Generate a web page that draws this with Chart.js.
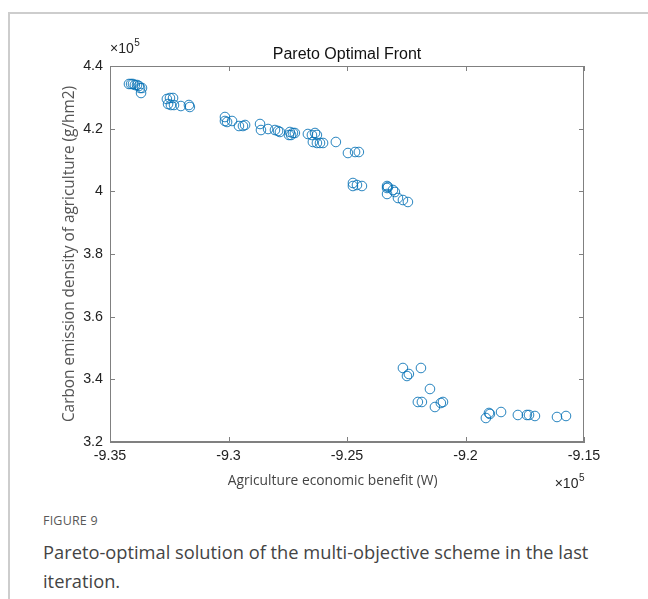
<!DOCTYPE html>
<html>
<head>
<meta charset="utf-8">
<script src="https://cdn.jsdelivr.net/npm/chart.js@4.4.1/dist/chart.umd.min.js"></script>
<style>
  html, body { margin: 0; padding: 0; background: #fff; }
  body { width: 648px; height: 599px; position: relative; overflow: hidden; }
  #card { position: absolute; left: 8px; top: 12px; width: 800px; height: 800px; border: 2px solid #cdcdcd; box-sizing: border-box; }
  #wrap { position: absolute; left: 0; top: 0; width: 648px; height: 500px; }
  #fig { position: absolute; left: 43px; top: 512px; font-family: "Open Sans", sans-serif; font-size: 12.5px; color: #585858; letter-spacing: 0.2px; }
  #cap { position: absolute; left: 43px; top: 537px; width: 570px; font-family: "Open Sans", sans-serif; font-size: 18.3px; line-height: 29px; color: #444; }
</style>
</head>
<body>
<div id="card"></div>
<div id="wrap"><canvas id="c" width="648" height="500"></canvas></div>
<div id="fig">FIGURE 9</div>
<div id="cap">Pareto-optimal solution of the multi-objective scheme in the last iteration.</div>
<script>
// Pareto front points: benefit (W) vs carbon emission density (g/hm2)
var benefit = [
  -934200, -934110, -934030, -933950, -933860, -933780, -933730, -933650, -933690,
  -932600, -932470, -932340, -932550, -932430, -932300, -932010, -931630, -931670,
  -930150, -930150, -930060, -929850, -929560, -929390, -929300,
  -928670, -928630, -928330, -928040, -927910, -927830, -927450, -927410, -927280,
  -927200, -927360, -926650, -926480, -926350, -926270, -926440, -926270, -926140,
  -926010, -925470, -924960, -924660, -924500,
  -924750, -924750, -924580, -924370, -923310, -923270, -923060, -922980, -923310,
  -922850, -922640, -922430, -923310,
  -922640, -922470, -922390, -921880, -921500, -922010, -921840, -921290, -921040,
  -920950, -919140, -919010, -918970, -918500, -917790, -917410, -917320, -917070,
  -916140, -915760
];
var carbon = [
  434260, 434260, 434260, 433940, 433940, 433620, 432980, 432980, 431380,
  429470, 429790, 429790, 427870, 427550, 427550, 427230, 426920, 427550,
  423720, 422450, 422130, 422450, 420850, 420850, 421170,
  421490, 419570, 419890, 419570, 419260, 418940, 417980, 418940, 418620,
  418620, 417980, 418300, 417980, 418620, 417980, 415750, 415430, 415430,
  415430, 415750, 412230, 412550, 412550,
  402660, 401700, 402020, 401700, 401700, 401380, 400430, 399790, 399150,
  397870, 397230, 396600, 401060,
  343620, 341060, 341700, 343620, 336920, 332770, 332770, 331170, 332450,
  332770, 327660, 329260, 328940, 329570, 328620, 328620, 328620, 328300,
  327980, 328300
];

var xTicks = [-935000, -930000, -925000, -920000, -915000];
var xTickLabels = ['-9.35', '-9.3', '-9.25', '-9.2', '-9.15'];
var yTicks = [320000, 340000, 360000, 380000, 400000, 420000, 440000];
var yTickLabels = ['3.2', '3.4', '3.6', '3.8', '4', '4.2', '4.4'];

var points = benefit.map(function(b, i) { return { x: b, y: carbon[i] }; });

var axisColor = '#808080';
var tickFont = { family: 'Liberation Sans, Arial, sans-serif', size: 14.3 };

// MATLAB style box with inward ticks on all four sides, plus x10^5 exponents
var boxPlugin = {
  id: 'box',
  afterDraw: function(chart) {
    var ctx = chart.ctx, a = chart.chartArea;
    var xs = chart.scales.x, ys = chart.scales.y;
    ctx.save();
    ctx.strokeStyle = axisColor;
    ctx.lineWidth = 1;
    ctx.strokeRect(a.left + 0.5, a.top + 0.5, a.right - a.left - 1, a.bottom - a.top - 1);
    ctx.beginPath();
    xTicks.forEach(function(v) {
      var px = Math.round(xs.getPixelForValue(v)) + 0.5;
      ctx.moveTo(px, a.bottom); ctx.lineTo(px, a.bottom - 5);
      ctx.moveTo(px, a.top); ctx.lineTo(px, a.top + 5);
    });
    yTicks.forEach(function(v) {
      var py = Math.round(ys.getPixelForValue(v)) + 0.5;
      ctx.moveTo(a.left, py); ctx.lineTo(a.left + 5, py);
      ctx.moveTo(a.right, py); ctx.lineTo(a.right - 5, py);
    });
    ctx.stroke();

    function expo(x, y, alignRight) {
      ctx.fillStyle = '#262626';
      ctx.textBaseline = 'alphabetic';
      ctx.font = '14px Liberation Sans, Arial, sans-serif';
      var w1 = ctx.measureText('\u00d710').width;
      ctx.font = '10px Liberation Sans, Arial, sans-serif';
      var w2 = ctx.measureText('5').width;
      var x0 = alignRight ? x - w1 - w2 : x;
      ctx.font = '14px Liberation Sans, Arial, sans-serif';
      ctx.textAlign = 'left';
      ctx.fillText('\u00d710', x0, y);
      ctx.font = '10px Liberation Sans, Arial, sans-serif';
      ctx.fillText('5', x0 + w1 + 0.5, y - 7);
    }
    expo(a.left, a.top - 13, false);
    expo(a.right, a.bottom + 46, true);
    ctx.restore();
  }
};

new Chart(document.getElementById('c'), {
  type: 'scatter',
  data: {
    datasets: [{
      data: points,
      pointStyle: 'circle',
      pointRadius: 4.8,
      pointBorderWidth: 1,
      pointBorderColor: 'rgba(0, 110, 180, 0.85)',
      pointBackgroundColor: 'rgba(0, 0, 0, 0)'
    }]
  },
  options: {
    responsive: false,
    devicePixelRatio: 1,
    animation: false,
    layout: { padding: { left: 0, right: 64, top: 0, bottom: 0 } },
    plugins: {
      legend: { display: false },
      tooltip: { enabled: false },
      title: {
        display: true,
        text: 'Pareto Optimal Front',
        fullSize: false,
        color: '#111',
        font: { family: 'Liberation Sans, Arial, sans-serif', size: 16, weight: 'normal' },
        padding: { top: 45.4, bottom: 1.4 }
      }
    },
    scales: {
      x: {
        type: 'linear',
        min: -935000,
        max: -915000,
        afterBuildTicks: function(s) { s.ticks = xTicks.map(function(v) { return { value: v }; }); },
        afterFit: function(s) { s.height = 58; },
        ticks: {
          autoSkip: false,
          maxRotation: 0,
          padding: 5,
          color: '#222',
          font: tickFont,
          callback: function(v, i) { return xTickLabels[i]; }
        },
        grid: { drawOnChartArea: false, drawTicks: false },
        border: { display: true, color: axisColor, width: 1 },
        title: {
          display: true,
          text: 'Agriculture economic benefit (W)\u00a0\u00a0\u00a0\u00a0\u00a0\u00a0\u00a0\u00a0',
          color: '#444',
          font: { family: 'Open Sans, sans-serif', size: 13.8 },
          padding: { top: 0, bottom: 10.2 }
        }
      },
      y: {
        type: 'linear',
        min: 320000,
        max: 440000,
        afterBuildTicks: function(s) { s.ticks = yTicks.map(function(v) { return { value: v }; }); },
        afterFit: function(s) { s.width = 110; },
        ticks: {
          autoSkip: false,
          padding: 7,
          color: '#222',
          font: tickFont,
          callback: function(v, i) { return yTickLabels[i]; }
        },
        grid: { drawOnChartArea: false, drawTicks: false },
        border: { display: true, color: axisColor, width: 1 },
        title: {
          display: true,
          text: 'Carbon emission density of agriculture (g/hm2)',
          color: '#555',
          font: { family: 'Open Sans, sans-serif', size: 15.4 },
          padding: { top: 60.8, bottom: 0 }
        }
      }
    }
  },
  plugins: [boxPlugin]
});
</script>
</body>
</html>
